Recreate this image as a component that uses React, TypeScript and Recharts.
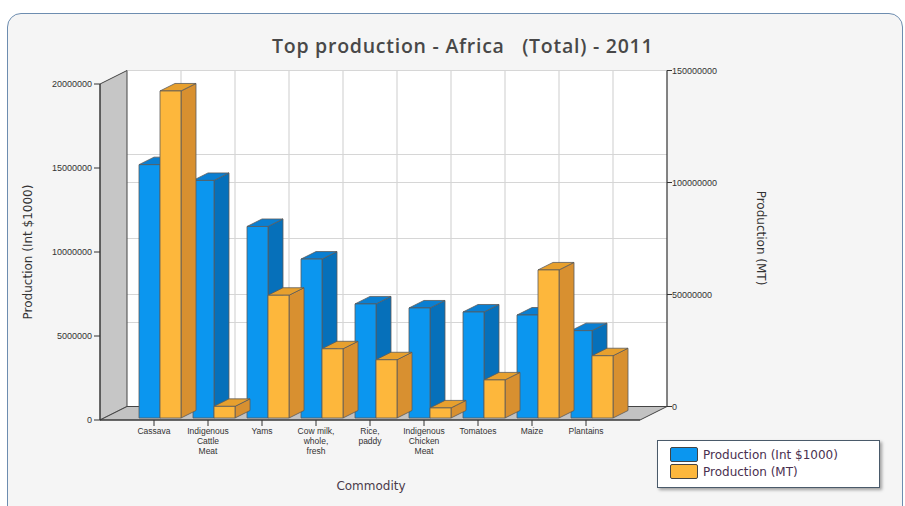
import React from 'react';
import { ComposedChart, Bar, XAxis, YAxis } from 'recharts';

// data
const CATEGORIES = [
  'Cassava',
  'Indigenous Cattle Meat',
  'Yams',
  'Cow milk, whole, fresh',
  'Rice, paddy',
  'Indigenous Chicken Meat',
  'Tomatoes',
  'Maize',
  'Plantains',
];
const TICK_LINES = [
  ['Cassava'],
  ['Indigenous', 'Cattle', 'Meat'],
  ['Yams'],
  ['Cow milk,', 'whole,', 'fresh'],
  ['Rice,', 'paddy'],
  ['Indigenous', 'Chicken', 'Meat'],
  ['Tomatoes'],
  ['Maize'],
  ['Plantains'],
];
const VALUE_INT = [15080000, 14140000, 11400000, 9460000, 6790000, 6550000, 6310000, 6130000, 5200000];
const VALUE_MT = [146000000, 5200000, 54800000, 30900000, 26000000, 4500000, 17000000, 66100000, 27800000];
const LEFT_TICKS = [0, 5000000, 10000000, 15000000, 20000000];
const RIGHT_TICKS = [0, 50000000, 100000000, 150000000];
const LEFT_MAX = 20000000;
const RIGHT_MAX = 150000000;

const SERIES = [
  { key: 'int', name: 'Production (Int $1000)', axis: 'left', face: '#0b96ef', top: '#0a7fd2', side: '#0670ba' },
  { key: 'mt', name: 'Production (MT)', axis: 'right', face: '#fdb73c', top: '#e7a02e', side: '#d89030' },
];

const data = CATEGORIES.map((name, i) => ({ name, int: VALUE_INT[i], mt: VALUE_MT[i] }));

// front plane of the 3D box = recharts plot area
const W = 905;
const H = 506;
const PX0 = 100;
const PX1 = 640;
const PY0 = 84;
const PY1 = 420;
const DX = 27;
const DY = -13.5;
const BAND = (PX1 - PX0) / (CATEGORIES.length + 1);

const Box3D = (props: any) => {
  const { x, y, width, height, face, top, side } = props;
  if (width == null || height == null) return null;
  const fx = x + 6;
  const fy = y - 2;
  const dx = 15;
  const dy = -7.5;
  return (
    <g stroke="#5b5b5b" strokeWidth={0.8} strokeLinejoin="round">
      <polygon
        points={`${fx + width},${fy} ${fx + width + dx},${fy + dy} ${fx + width + dx},${fy + height + dy} ${fx + width},${fy + height}`}
        fill={side}
      />
      <polygon
        points={`${fx},${fy} ${fx + dx},${fy + dy} ${fx + width + dx},${fy + dy} ${fx + width},${fy}`}
        fill={top}
      />
      <rect x={fx} y={fy} width={width} height={height} fill={face} />
    </g>
  );
};

const CategoryTick = (props: any) => {
  const { x, y, payload } = props;
  const lines = TICK_LINES[payload.index] || [payload.value];
  return (
    <text x={x} y={y} textAnchor="middle" fontSize={8.5} fill="#333" fontFamily="'Liberation Sans', Arial, sans-serif">
      {lines.map((l, i) => (
        <tspan key={i} x={x} dy={i === 0 ? 6 : 10}>{l}</tspan>
      ))}
    </text>
  );
};

const RightTick = (props: any) => {
  const { x, y, payload } = props;
  const ax = x + DX;
  const ay = y + DY;
  return (
    <g>
      <line x1={ax} y1={ay} x2={ax + 5} y2={ay} stroke="#333" />
      <text x={ax + 5} y={ay} dy={3} fontSize={9} fill="#333" fontFamily="'Liberation Sans', Arial, sans-serif">
        {payload.value}
      </text>
    </g>
  );
};

// back wall, side wall and floor drawn behind the chart
function Frame() {
  const bx0 = PX0 + DX;
  const bx1 = PX1 + DX;
  const by0 = PY0 + DY;
  const by1 = PY1 + DY;
  const hLeft = LEFT_TICKS.map((v) => PY1 - (v / LEFT_MAX) * (PY1 - PY0) + DY);
  const hRight = RIGHT_TICKS.map((v) => PY1 - (v / RIGHT_MAX) * (PY1 - PY0) + DY);
  const vert = CATEGORIES.map((_, i) => PX0 + BAND * (i + 1) + DX);
  return (
    <svg width={W} height={H} style={{ position: 'absolute', left: 0, top: 0 }}>
      <rect x={bx0} y={by0} width={bx1 - bx0} height={by1 - by0} fill="#fff" />
      {[...hLeft, ...hRight].map((yy, i) => (
        <line key={'h' + i} x1={bx0} x2={bx1} y1={yy} y2={yy} stroke="#d6d6d6" strokeWidth={1.2} />
      ))}
      {vert.map((xx, i) => (
        <line key={'v' + i} x1={xx} x2={xx} y1={by0} y2={by1} stroke="#d6d6d6" strokeWidth={1.2} />
      ))}
      <polygon
        points={`${PX0},${PY0} ${bx0},${by0} ${bx0},${by1} ${PX0},${PY1}`}
        fill="#c6c6c6"
        stroke="#444"
        strokeWidth={1}
      />
      <polygon
        points={`${PX0},${PY1} ${bx0},${by1} ${bx1},${by1} ${PX1},${PY1}`}
        fill="#c2c2c2"
        stroke="#444"
        strokeWidth={1}
      />
      <line x1={bx1} x2={bx1} y1={by0} y2={by1} stroke="#333" strokeWidth={1.2} />
    </svg>
  );
}

export default function App() {
  return (
    <div style={{ position: 'fixed', left: 0, top: 0, width: W, height: H, background: '#fff', overflow: 'hidden' }}>
      <div
        style={{
          position: 'absolute',
          left: 7,
          top: 13,
          width: 894,
          height: 510,
          border: '1.5px solid #6d8db0',
          borderRadius: 14,
          background: '#f5f5f5',
        }}
      />
      <Frame />
      <div style={{ position: 'absolute', left: 0, top: 0 }}>
        <ComposedChart
          width={W}
          height={H}
          data={data}
          margin={{ top: PY0, left: PX0 - 60, right: W - PX1 - 80, bottom: H - PY1 - 60 }}
          barSize={21}
          barGap={0}
        >
          <XAxis
            dataKey="name"
            height={60}
            padding={{ left: BAND / 2, right: BAND / 2 }}
            interval={0}
            tick={<CategoryTick />}
            tickLine={{ stroke: '#333' }}
            axisLine={{ stroke: '#333' }}
          />
          <YAxis
            yAxisId="left"
            width={60}
            domain={[0, LEFT_MAX]}
            ticks={LEFT_TICKS}
            interval={0}
            tick={{ fontSize: 9, fill: '#333', fontFamily: "'Liberation Sans', Arial, sans-serif" }}
            tickLine={{ stroke: '#333' }}
            axisLine={{ stroke: '#333' }}
          />
          <YAxis
            yAxisId="right"
            orientation="right"
            width={80}
            domain={[0, RIGHT_MAX]}
            ticks={RIGHT_TICKS}
            interval={0}
            tickSize={0}
            tickMargin={0}
            tick={<RightTick />}
            tickLine={false}
            axisLine={false}
          />
          {SERIES.map((s) => (
            <Bar
              key={s.key}
              dataKey={s.key}
              name={s.name}
              yAxisId={s.axis}
              fill={s.face}
              isAnimationActive={false}
              shape={(p: any) => <Box3D {...p} face={s.face} top={s.top} side={s.side} />}
            />
          ))}
        </ComposedChart>
      </div>
      <svg width={W} height={H} style={{ position: 'absolute', left: 0, top: 0, pointerEvents: 'none' }}>
        <text
          x={272}
          y={53}
          fontSize={19.5}
          fontWeight={600}
          letterSpacing={0.75}
          fill="#484848"
          fontFamily="'Open Sans', sans-serif"
          style={{ whiteSpace: 'pre' }}
        >
          {'Top production - Africa   (Total) - 2011'}
        </text>
        <text
          transform="translate(32,252) rotate(-90)"
          textAnchor="middle"
          fontSize={12}
          fill="#333"
          fontFamily="'DejaVu Sans', Verdana, sans-serif"
        >
          Production (Int $1000)
        </text>
        <text
          transform="translate(757,238) rotate(90)"
          textAnchor="middle"
          fontSize={12}
          fill="#333"
          fontFamily="'DejaVu Sans', Verdana, sans-serif"
        >
          Production (MT)
        </text>
        <text x={371} y={490} textAnchor="middle" fontSize={12} fill="#4a3a4a" fontFamily="'DejaVu Sans', Verdana, sans-serif">
          Commodity
        </text>
      </svg>
      <div
        style={{
          position: 'absolute',
          left: 657,
          top: 440,
          width: 223,
          height: 48,
          background: '#fff',
          border: '1px solid #4a5a6a',
          boxShadow: '2px 2px 3px rgba(0,0,0,0.35)',
          fontFamily: "'DejaVu Sans', Verdana, sans-serif",
          fontSize: 12,
          color: '#4a3050',
          boxSizing: 'border-box',
          paddingTop: 5,
          paddingLeft: 12,
        }}
      >
        {SERIES.map((s) => (
          <div key={s.key} style={{ display: 'flex', alignItems: 'center', height: 17 }}>
            <span
              style={{
                display: 'inline-block',
                width: 26,
                height: 13,
                background: s.face,
                border: '1px solid #444',
                borderRadius: 2,
                marginRight: 5,
              }}
            />
            {s.name}
          </div>
        ))}
      </div>
    </div>
  );
}
